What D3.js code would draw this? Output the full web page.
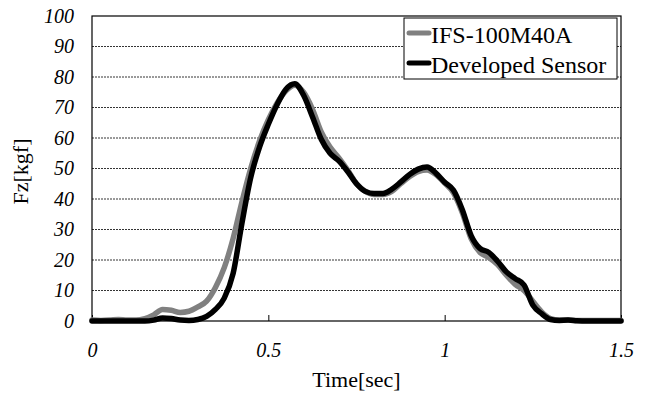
<!DOCTYPE html>
<html>
<head>
<meta charset="utf-8">
<script src="https://cdn.jsdelivr.net/npm/d3@7"></script>
<style>
  body { margin: 0; background: #fff; }
  svg text { font-family: "Liberation Serif", "Times New Roman", Times, serif; }
</style>
</head>
<body>
<div id="container"></div>
<script>
// time axis (sec), shared by both series
var time = d3.range(0, 61).map(function (i) { return +(i * 0.025).toFixed(3); });

// IFS-100M40A (grey)
var ifs = [0.3, 0.2, 0.3, 0.5, 0.3, 0.3, 0.8, 2.0, 3.8, 3.5,
           2.8, 3.2, 4.6, 6.5, 11, 17.5, 27, 39, 50, 59,
           66, 71.5, 75.5, 77.3, 75, 69.5, 62, 57, 53.5, 49.5,
           45, 42.5, 41.5, 41.5, 42.5, 45, 47.3, 49, 49.5, 48,
           45.2, 42, 35.5, 27, 22.5, 20.8, 18.5, 15, 12, 10,
           6.5, 3, 0.8, 0.3, 0.3, 0.2, 0.2, 0.2, 0.2, 0.2, 0.2];

// Developed Sensor (black)
var dev = [0, 0, 0, 0, 0, 0, 0, 0.3, 1.0, 0.8,
           0.3, 0.2, 0.5, 1.5, 3.8, 7.5, 15.5, 32, 47, 57,
           64.5, 71, 76, 77.8, 74, 67, 59.6, 55, 52.5, 49,
           45, 42.5, 41.8, 41.8, 43.2, 45.5, 48, 49.8, 50.5, 48.5,
           45.5, 42.9, 36.5, 28, 23.8, 22.5, 19.6, 16.1, 13.9, 11.8,
           5.2, 2.4, 0.5, 0.2, 0.3, 0.1, 0, 0, 0, 0, 0];

var xTicks = [0, 0.5, 1, 1.5];
var yTicks = [0, 10, 20, 30, 40, 50, 60, 70, 80, 90, 100];
var seriesNames = ["IFS-100M40A", "Developed Sensor"];
var seriesColors = ["#808080", "#000000"];

var FONT = "'Liberation Serif', 'Times New Roman', Times, serif";

var W = 648, H = 394;
var margin = {top: 16, right: 27, bottom: 73, left: 92};
var width = W - margin.left - margin.right;
var height = H - margin.top - margin.bottom;

var svg = d3.select("#container")
  .append("svg")
    .attr("width", W)
    .attr("height", H)
  .append("g")
    .attr("transform", "translate(" + margin.left + "," + margin.top + ")");

var x = d3.scaleLinear().domain([0, 1.5]).range([0, width]);
var y = d3.scaleLinear().domain([0, 100]).range([height, 0]);

// dotted gridlines
svg.append("g")
  .selectAll("line")
  .data(yTicks.slice(1, -1))
  .enter()
  .append("line")
    .attr("x1", 0).attr("x2", width)
    .attr("y1", function (d) { return y(d); })
    .attr("y2", function (d) { return y(d); })
    .attr("stroke", "#000")
    .attr("stroke-width", 0.8)
    .attr("stroke-dasharray", "2,1");

// Y axis labels
var yAxis = svg.append("g")
  .attr("font-family", FONT)
  .call(d3.axisLeft(y).tickValues(yTicks).tickSize(0).tickPadding(18).tickFormat(d3.format("d")));
yAxis.attr("font-family", FONT).attr("font-size", 20);
yAxis.select(".domain").remove();
yAxis.selectAll("text")
  .attr("font-family", FONT)
  .attr("font-style", "italic");

// X axis: inner ticks pointing up, labels below
var xAxis = svg.append("g")
  .attr("transform", "translate(0," + height + ")")
  .call(d3.axisBottom(x).tickValues(xTicks).tickSize(-6).tickPadding(22).tickFormat(function (d) { return d; }));
xAxis.attr("font-family", FONT).attr("font-size", 20);
xAxis.select(".domain").remove();
xAxis.selectAll("text")
  .attr("font-family", FONT)
  .attr("font-style", "italic");

// plot frame
svg.append("rect")
  .attr("width", width)
  .attr("height", height)
  .attr("fill", "none")
  .attr("stroke", "#000")
  .attr("stroke-width", 1.2);

// lines
var line = d3.line()
  .x(function (d) { return x(d[0]); })
  .y(function (d) { return y(d[1]); })
  .curve(d3.curveMonotoneX);

[ifs, dev].forEach(function (vals, i) {
  svg.append("path")
    .datum(d3.zip(time, vals))
    .attr("fill", "none")
    .attr("stroke", seriesColors[i])
    .attr("stroke-width", 5.5)
    .attr("stroke-linejoin", "round")
    .attr("stroke-linecap", "round")
    .attr("d", line);
});

// axis titles
svg.append("text")
  .attr("x", width / 2)
  .attr("y", height + 66)
  .attr("text-anchor", "middle")
  .attr("font-family", FONT)
  .attr("font-size", 22)
  .text("Time[sec]");

svg.append("text")
  .attr("transform", "translate(" + (-64) + "," + (height / 2 + 3) + ") rotate(-90)")
  .attr("text-anchor", "middle")
  .attr("font-family", FONT)
  .attr("font-size", 22)
  .text("Fz[kgf]");

// legend
var lg = svg.append("g").attr("transform", "translate(" + (404 - margin.left) + "," + (18 - margin.top) + ")");
lg.append("rect")
  .attr("width", 213)
  .attr("height", 61)
  .attr("fill", "#fff")
  .attr("stroke", "#000")
  .attr("stroke-width", 1);
seriesNames.forEach(function (name, i) {
  var yy = 15 + i * 30;
  lg.append("line")
    .attr("x1", 5).attr("x2", 25)
    .attr("y1", yy).attr("y2", yy)
    .attr("stroke", seriesColors[i])
    .attr("stroke-width", 5)
    .attr("stroke-linecap", "round");
  lg.append("text")
    .attr("x", 27)
    .attr("y", yy + 10)
    .attr("font-family", FONT)
    .attr("font-size", 24)
    .text(name);
});
</script>
</body>
</html>
